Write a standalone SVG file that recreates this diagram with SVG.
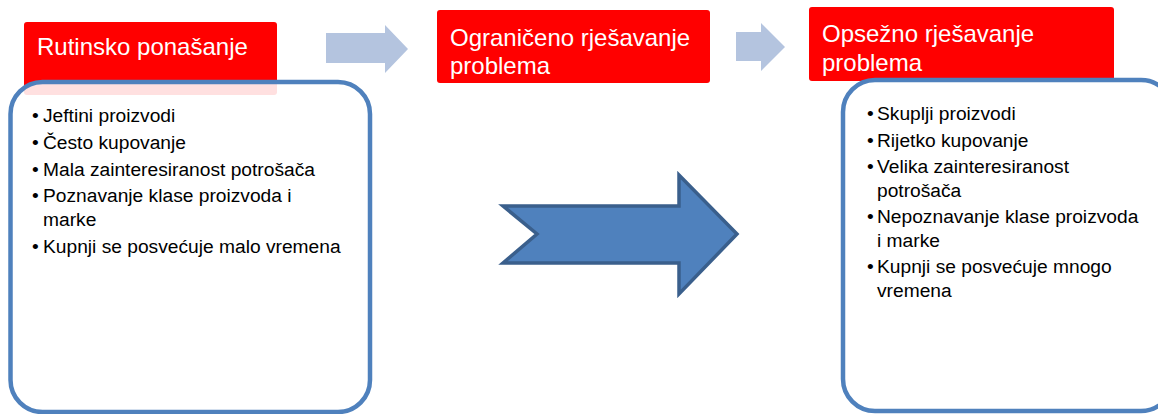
<svg xmlns="http://www.w3.org/2000/svg" width="1158" height="414" viewBox="0 0 1158 414">
<style>
.hdr{fill:#ff0000}
.htxt{font-family:"Liberation Sans",Arial,sans-serif;font-size:24px;fill:#ffffff}
.box{fill:#ffffff;fill-opacity:0.88;stroke:#4f81bd;stroke-width:4.5}
.btxt{font-family:"Liberation Sans",Arial,sans-serif;font-size:19.2px;fill:#000000}
.light{fill:#b4c4df}
.big{fill:#4f81bd;stroke:#3a5f8c;stroke-width:3.5;stroke-linejoin:miter}
</style>
<rect width="1158" height="414" fill="#ffffff"/>
<g id="connectors">
<polygon class="light" points="326,33 385,33 385,25 408,49 385,73 385,63 326,63"/>
<polygon class="light" points="736,32 761,32 761,23 785,47 761,71 761,61 736,61"/>
<polygon class="big" points="503,206 679,206 679,175 737,234 679,294 679,263 503,263 537,234"/>
</g>
<g id="node-rutinsko">
<rect class="hdr" x="24" y="22" width="253" height="73" rx="3"/>
<text class="htxt" x="37" y="55">Rutinsko ponašanje</text>
</g>
<g id="node-ograniceno">
<rect class="hdr" x="437" y="10" width="273" height="73" rx="3"/>
<text class="htxt" x="450" y="46">Ograničeno rješavanje</text>
<text class="htxt" x="450" y="74">problema</text>
</g>
<g id="node-opsezno">
<rect class="hdr" x="809" y="7" width="305" height="74" rx="3"/>
<text class="htxt" x="822" y="42">Opsežno rješavanje</text>
<text class="htxt" x="822" y="71">problema</text>
</g>
<g id="node-list-left">
<rect class="box" x="10.5" y="82" width="359.5" height="330" rx="32"/>
<text class="btxt">
<tspan x="32" y="122">•</tspan><tspan x="43" y="122">Jeftini proizvodi</tspan>
<tspan x="32" y="149">•</tspan><tspan x="43" y="149">Često kupovanje</tspan>
<tspan x="32" y="176">•</tspan><tspan x="43" y="176">Mala zainteresiranost potrošača</tspan>
<tspan x="32" y="202">•</tspan><tspan x="43" y="202">Poznavanje klase proizvoda i</tspan>
<tspan x="43" y="226">marke</tspan>
<tspan x="32" y="253">•</tspan><tspan x="43" y="253">Kupnji se posvećuje malo vremena</tspan>
</text>
</g>
<g id="node-list-right">
<rect class="box" x="843" y="80" width="330" height="331" rx="32"/>
<text class="btxt">
<tspan x="867" y="120">•</tspan><tspan x="877" y="120">Skuplji proizvodi</tspan>
<tspan x="867" y="147">•</tspan><tspan x="877" y="147">Rijetko kupovanje</tspan>
<tspan x="867" y="173">•</tspan><tspan x="877" y="173">Velika zainteresiranost</tspan>
<tspan x="877" y="197">potrošača</tspan>
<tspan x="867" y="223">•</tspan><tspan x="877" y="223">Nepoznavanje klase proizvoda</tspan>
<tspan x="877" y="247">i marke</tspan>
<tspan x="867" y="273">•</tspan><tspan x="877" y="273">Kupnji se posvećuje mnogo</tspan>
<tspan x="877" y="297">vremena</tspan>
</text>
</g>
</svg>
